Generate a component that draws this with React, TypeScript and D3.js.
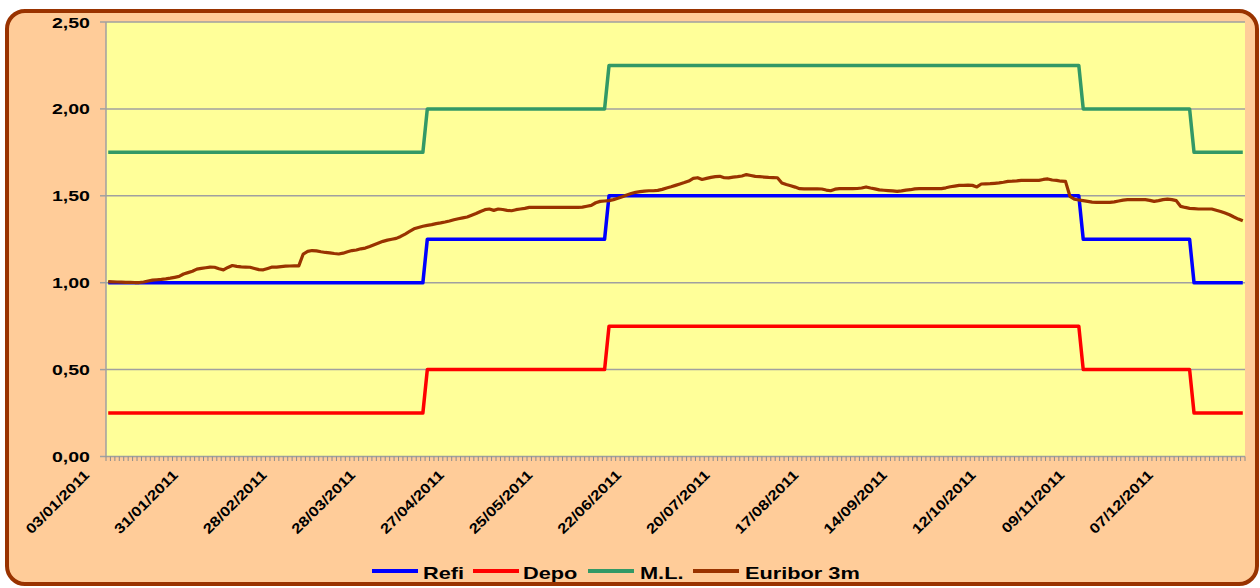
import React from "react";
import * as d3 from "d3";

// ---- DATA ----
const holidays2011 = ["2011-04-22", "2011-04-25", "2011-12-26"];
const firstDay = "2011-01-03";
const lastDay = "2011-12-30";

// step series: [first date (dd/mm/yyyy) of the level, level]
const refiSteps: [string, number][] = [
  ["03/01/2011", 1.0],
  ["13/04/2011", 1.25],
  ["13/06/2011", 1.5],
  ["09/11/2011", 1.25],
  ["14/12/2011", 1.0],
];
const depoSteps: [string, number][] = [
  ["03/01/2011", 0.25],
  ["13/04/2011", 0.5],
  ["13/06/2011", 0.75],
  ["09/11/2011", 0.5],
  ["14/12/2011", 0.25],
];
const mlSteps: [string, number][] = [
  ["03/01/2011", 1.75],
  ["13/04/2011", 2.0],
  ["13/06/2011", 2.25],
  ["09/11/2011", 2.0],
  ["14/12/2011", 1.75],
];

const euriborJan = [1.006, 1.005, 1.004, 1.003, 1.002, 1.002, 1.001, 1.001, 1.004, 1.010, 1.015, 1.017, 1.019, 1.022, 1.026, 1.031, 1.036, 1.050, 1.058, 1.066, 1.078];
const euriborFeb = [1.082, 1.086, 1.090, 1.089, 1.080, 1.074, 1.088, 1.099, 1.094, 1.091, 1.090, 1.089, 1.082, 1.075, 1.074, 1.082, 1.090, 1.090, 1.093, 1.095];
const euriborMar = [1.096, 1.097, 1.097, 1.165, 1.180, 1.185, 1.183, 1.178, 1.174, 1.172, 1.168, 1.165, 1.170, 1.178, 1.185, 1.188, 1.195, 1.199, 1.208, 1.218, 1.228, 1.238, 1.245];
const euriborApr = [1.250, 1.255, 1.266, 1.280, 1.295, 1.310, 1.318, 1.325, 1.330, 1.334, 1.340, 1.344, 1.349, 1.355, 1.362, 1.368, 1.373, 1.378, 1.388];
const euriborMay = [1.398, 1.410, 1.420, 1.424, 1.416, 1.424, 1.421, 1.416, 1.414, 1.420, 1.424, 1.428, 1.433, 1.433, 1.433, 1.433, 1.433, 1.433, 1.433, 1.433, 1.433, 1.433];
const euriborJun = [1.433, 1.433, 1.435, 1.440, 1.445, 1.460, 1.468, 1.470, 1.472, 1.478, 1.486, 1.495, 1.505, 1.513, 1.520, 1.524, 1.527, 1.529, 1.529, 1.531, 1.537, 1.545];
const euriborJul = [1.552, 1.560, 1.568, 1.576, 1.585, 1.600, 1.604, 1.594, 1.600, 1.606, 1.610, 1.612, 1.604, 1.603, 1.607, 1.610, 1.614, 1.622, 1.617, 1.612, 1.610];
const euriborAug = [1.608, 1.606, 1.605, 1.604, 1.574, 1.565, 1.558, 1.550, 1.541, 1.540, 1.540, 1.540, 1.540, 1.539, 1.533, 1.529, 1.538, 1.541, 1.541, 1.541, 1.541, 1.542, 1.545];
const euriborSep = [1.551, 1.545, 1.540, 1.534, 1.532, 1.530, 1.528, 1.525, 1.528, 1.533, 1.535, 1.540, 1.541, 1.541, 1.541, 1.541, 1.541, 1.541, 1.546, 1.552, 1.556, 1.560];
const euriborOct = [1.560, 1.561, 1.560, 1.551, 1.568, 1.569, 1.570, 1.572, 1.574, 1.578, 1.583, 1.584, 1.586, 1.589, 1.589, 1.589, 1.589, 1.589, 1.594, 1.597, 1.591];
const euriborNov = [1.589, 1.584, 1.583, 1.497, 1.480, 1.476, 1.472, 1.468, 1.464, 1.462, 1.462, 1.462, 1.462, 1.465, 1.470, 1.475, 1.478, 1.478, 1.478, 1.478, 1.478, 1.474];
const euriborDec = [1.468, 1.472, 1.478, 1.481, 1.478, 1.472, 1.439, 1.433, 1.428, 1.426, 1.424, 1.424, 1.424, 1.424, 1.417, 1.410, 1.401, 1.391, 1.378, 1.366, 1.356];

const yTicks = [0, 0.5, 1.0, 1.5, 2.0, 2.5];
const labelEvery = 20;

const seriesNames = ["Refi", "Depo", "M.L.", "Euribor 3m"];
const seriesColors = ["#0000FF", "#FF0000", "#339966", "#993300"];

// ---- helpers ----
const fmtDate = d3.timeFormat("%d/%m/%Y");
const parseDMY = d3.timeParse("%d/%m/%Y");
const parseISO = d3.timeParse("%Y-%m-%d");

function tradingDays(): Date[] {
  const hol = new Set(holidays2011);
  const fmtIso = d3.timeFormat("%Y-%m-%d");
  return d3
    .timeDays(parseISO(firstDay)!, d3.timeDay.offset(parseISO(lastDay)!, 1))
    .filter((d) => d.getDay() !== 0 && d.getDay() !== 6 && !hol.has(fmtIso(d)));
}

function stepLookup(steps: [string, number][], dates: Date[]): number[] {
  const s = steps.map(([d, v]) => ({ d: parseDMY(d)!, v }));
  return dates.map((date) => {
    let v = s[0].v;
    for (const st of s) if (st.d <= date) v = st.v;
    return v;
  });
}

export default function App() {
  const W = 1260;
  const H = 588;
  const left = 106;
  const right = 1245;
  const top = 22;
  const bottom = 456.5;

  const dates = tradingDays();
  const euribor = [
    ...euriborJan, ...euriborFeb, ...euriborMar, ...euriborApr, ...euriborMay, ...euriborJun,
    ...euriborJul, ...euriborAug, ...euriborSep, ...euriborOct, ...euriborNov, ...euriborDec,
  ];
  const refi = stepLookup(refiSteps, dates);
  const depo = stepLookup(depoSteps, dates);
  const ml = stepLookup(mlSteps, dates);

  const idx = dates.map((_, i) => i);
  const x = d3.scaleBand<number>().domain(idx).range([left, right]).padding(0);
  const bw = x.bandwidth();
  const cx = (i: number) => (x(i) as number) + bw / 2;
  const y = d3.scaleLinear().domain([0, 2.5]).range([bottom, top]);

  const line = d3
    .line<number>()
    .x((_, i) => cx(i))
    .y((v) => y(v));

  const series = [refi, depo, ml, euribor.slice(0, dates.length)];
  const widths = [3.5, 3.5, 3.5, 3.2];

  const fmtY = (v: number) => v.toFixed(2).replace(".", ",");

  const legendItems = [
    { lx: 372, tx: 423 },
    { lx: 473, tx: 523 },
    { lx: 588, tx: 640 },
    { lx: 693, tx: 745 },
  ];

  return (
    <svg
      width={W}
      height={H}
      style={{ position: "absolute", left: 0, top: 0 }}
      fontFamily="'Liberation Sans', Arial, sans-serif"
    >
      <rect x={0} y={0} width={W} height={H} fill="#ffffff" />
      <rect
        x={7}
        y={11}
        width={1250}
        height={573}
        rx={18}
        ry={18}
        fill="#FFCC99"
        stroke="#993300"
        strokeWidth={4}
      />
      <rect x={left} y={top} width={right - left} height={bottom - top} fill="#FFFF99" />
      {yTicks.map((t) => (
        <g key={t}>
          <line x1={left} x2={right} y1={y(t)} y2={y(t)} stroke="#A0A0A0" strokeWidth={1.5} />
          <line x1={100} x2={left} y1={y(t)} y2={y(t)} stroke="#A0A0A0" strokeWidth={1.5} />
          <text
            transform={`translate(90,${y(t) + 5.5}) scale(1.27,1)`}
            textAnchor="end"
            fontWeight="bold"
            fontSize={15.4}
            fill="#000"
          >
            {fmtY(t)}
          </text>
        </g>
      ))}
      <line x1={left} x2={left} y1={top} y2={bottom} stroke="#A0A0A0" strokeWidth={1.5} />
      {d3.range(dates.length + 1).map((i) => {
        const xx = left + i * bw;
        return <line key={i} x1={xx} x2={xx} y1={bottom} y2={bottom + 4.5} stroke="#8C8C8C" strokeWidth={1} />;
      })}
      {dates.map((d, i) =>
        i % labelEvery === 0 ? (
          <text
            key={i}
            transform={`translate(${cx(i) - 18},476) rotate(-45) scale(1.2,1)`}
            textAnchor="end"
            fontWeight="bold"
            fontSize={14}
            fill="#000"
          >
            {fmtDate(d)}
          </text>
        ) : null
      )}
      {series.map((s, k) => (
        <path
          key={k}
          d={line(s) || ""}
          fill="none"
          stroke={seriesColors[k]}
          strokeWidth={widths[k]}
          strokeLinejoin="round"
        />
      ))}
      {seriesNames.map((n, k) => (
        <g key={n}>
          <line
            x1={legendItems[k].lx}
            x2={legendItems[k].lx + 46}
            y1={571}
            y2={571}
            stroke={seriesColors[k]}
            strokeWidth={4}
          />
          <text
            transform={`translate(${legendItems[k].tx},579) scale(1.28,1)`}
            fontWeight="bold"
            fontSize={17}
            fill="#000"
          >
            {n}
          </text>
        </g>
      ))}
    </svg>
  );
}
